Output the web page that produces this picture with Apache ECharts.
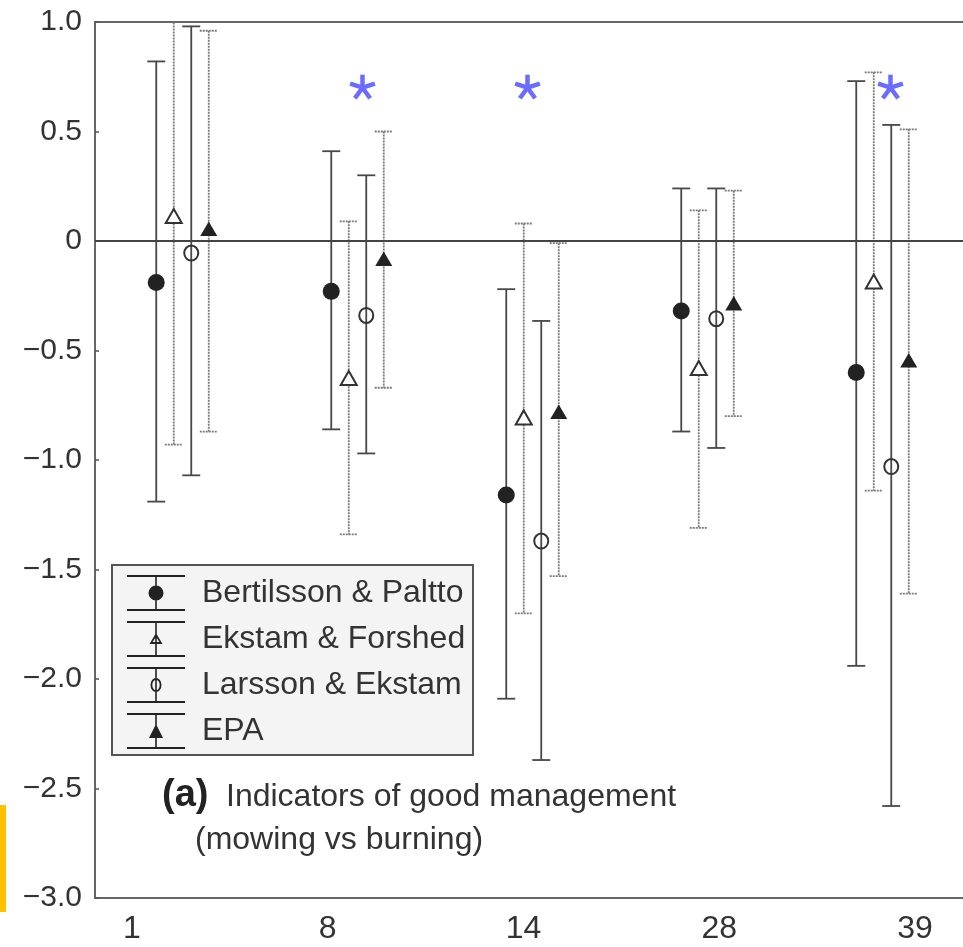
<!DOCTYPE html>
<html>
<head>
<meta charset="utf-8">
<script src="https://cdn.jsdelivr.net/npm/echarts@6/dist/echarts.min.js"></script>
<style>html,body{margin:0;padding:0;background:#fff;}#chart{width:963px;height:947px;}</style>
</head>
<body>
<div id="chart"></div>
<script>
// ---- data ----
const categories = ['1', '8', '14', '28', '39'];
const seriesNames = ['Bertilsson & Paltto', 'Ekstam & Forshed', 'Larsson & Ekstam', 'EPA'];

const bertMean = [-0.19, -0.23, -1.16, -0.32, -0.60];
const bertLow  = [-1.19, -0.86, -2.09, -0.87, -1.94];
const bertHigh = [0.82, 0.41, -0.22, 0.24, 0.73];

const ekMean = [0.11, -0.63, -0.81, -0.585, -0.19];
const ekLow  = [-0.93, -1.34, -1.70, -1.31, -1.14];
const ekHigh = [1.08, 0.09, 0.08, 0.14, 0.77];

const larMean = [-0.055, -0.34, -1.37, -0.355, -1.03];
const larLow  = [-1.07, -0.97, -2.37, -0.945, -2.58];
const larHigh = [0.98, 0.30, -0.365, 0.24, 0.53];

const epaMean = [0.05, -0.087, -0.785, -0.29, -0.55];
const epaLow  = [-0.87, -0.67, -1.53, -0.80, -1.61];
const epaHigh = [0.96, 0.50, -0.01, 0.23, 0.51];

const starCats = ['8', '14', '39'];
const starValues = [0.70, 0.70, 0.70];

// ---- styling ----
const FONT = '"Liberation Sans", Arial, Helvetica, sans-serif';
const solidLine = { stroke: '#484848', lineWidth: 1.8 };
const dottedLine = { stroke: '#7a7a7a', lineWidth: 1.8, lineDash: [2, 1] };
const starOffsets = [5, -5, 8];

function build(mean, low, high) {
  return categories.map((c, i) => [c, mean[i], low[i], high[i]]);
}

function makeRender(offset, lineStyle, marker) {
  return function (params, api) {
    const ci = api.value(0);
    const pm = api.coord([ci, api.value(1)]);
    const pl = api.coord([ci, api.value(2)]);
    const ph = api.coord([ci, api.value(3)]);
    const x = pm[0] + offset, y = pm[1];
    const hw = 9;
    const children = [
      { type: 'line', shape: { x1: x, y1: ph[1], x2: x, y2: pl[1] }, style: lineStyle },
      { type: 'line', shape: { x1: x - hw, y1: ph[1], x2: x + hw, y2: ph[1] }, style: lineStyle },
      { type: 'line', shape: { x1: x - hw, y1: pl[1], x2: x + hw, y2: pl[1] }, style: lineStyle }
    ];
    if (marker === 'dot') {
      children.push({ type: 'circle', shape: { cx: x, cy: y, r: 8.5 }, style: { fill: '#222' } });
    } else if (marker === 'otri') {
      children.push({ type: 'polygon', shape: { points: [[x, y - 8], [x + 8, y + 6], [x - 8, y + 6]] },
        style: { fill: '#fff', stroke: '#333', lineWidth: 2 } });
    } else if (marker === 'ocirc') {
      children.push({ type: 'ellipse', shape: { cx: x, cy: y, rx: 7, ry: 7.5 },
        style: { fill: 'none', stroke: '#333', lineWidth: 2 } });
    } else if (marker === 'ftri') {
      children.push({ type: 'polygon', shape: { points: [[x, y - 8.5], [x + 8.5, y + 6], [x - 8.5, y + 6]] },
        style: { fill: '#222' } });
    }
    return { type: 'group', children: children };
  };
}

function starRender(params, api) {
  const p = api.coord([api.value(0), api.value(1)]);
  const x = p[0] + starOffsets[params.dataIndex], y = p[1];
  const r = 13;
  const children = [];
  [-90, -18, 54, 126, 198].forEach(function (a) {
    const rad = a * Math.PI / 180;
    children.push({ type: 'line', shape: { x1: x, y1: y, x2: x + r * Math.cos(rad), y2: y + r * Math.sin(rad) },
      style: { stroke: '#6b6bff', lineWidth: 4.5, lineCap: 'butt' } });
  });
  return { type: 'group', children: children };
}

// legend icons (58 x 36)
const caps = 'M0 0h58v2H0Z M0 34h58v2H0Z M28.2 2h1.6v32h-1.6Z ';
const iconDot = 'path://' + caps + 'M21.5 18a7.5 7.5 0 1 1 15 0a7.5 7.5 0 1 1 -15 0Z';
const iconOtri = 'path://' + caps + 'M29 12L35.5 23H22.5Z M29 15.8L25.6 21H32.4Z';
const iconOcirc = 'path://' + caps + 'M23.5 18a5.5 7 0 1 1 11 0a5.5 7 0 1 1 -11 0Z M25.3 18a3.7 5.2 0 1 0 7.4 0a3.7 5.2 0 1 0 -7.4 0Z';
const iconFtri = 'path://' + caps + 'M29 11L36 25H22Z';

const chart = echarts.init(document.getElementById('chart'), null, { renderer: 'canvas' });

const axisLineStyle = { color: '#666', width: 2 };

chart.setOption({
  backgroundColor: '#fff',
  animation: false,
  textStyle: { fontFamily: FONT },
  grid: [
    { left: 95, top: 22, width: 875, height: 876, outerBoundsMode: 'none', containLabel: false },
    { left: 34, top: 22, width: 979, height: 876, outerBoundsMode: 'none', containLabel: false }
  ],
  xAxis: [
    { type: 'category', gridIndex: 0, data: categories, boundaryGap: true, position: 'bottom',
      axisLine: { onZero: false, lineStyle: axisLineStyle },
      axisTick: { inside: true, alignWithLabel: true, length: 4, lineStyle: { color: '#555', width: 1.5 } },
      axisLabel: { show: false }, splitLine: { show: false } },
    { type: 'category', gridIndex: 0, data: categories, boundaryGap: true, position: 'top',
      axisLine: { onZero: false, lineStyle: axisLineStyle },
      axisTick: { inside: true, alignWithLabel: true, length: 4, lineStyle: { color: '#555', width: 1.5 } },
      axisLabel: { show: false }, splitLine: { show: false } },
    { type: 'category', gridIndex: 1, data: categories, boundaryGap: true, position: 'bottom',
      axisLine: { show: false, onZero: false }, axisTick: { show: false },
      axisLabel: { show: true, fontSize: 32, color: '#333', margin: 15, fontFamily: FONT },
      splitLine: { show: false } }
  ],
  yAxis: [
    { type: 'value', gridIndex: 0, min: -3, max: 1, interval: 0.5,
      axisLine: { show: true, onZero: false, lineStyle: axisLineStyle },
      axisTick: { show: true, inside: true, length: 4, lineStyle: { color: '#555', width: 1.5 } },
      splitLine: { show: false },
      axisLabel: { fontSize: 30, color: '#333', margin: 13, fontFamily: FONT,
        formatter: function (v) {
          if (Math.abs(v) < 1e-9) return '0';
          return (v < 0 ? '\u2212' : '') + Math.abs(v).toFixed(1);
        } } },
    { type: 'value', gridIndex: 1, min: -3, max: 1, show: false }
  ],
  legend: {
    orient: 'vertical', left: 112, top: 565, padding: [10, 10, 10, 15],
    itemWidth: 58, itemHeight: 36, itemGap: 10,
    itemStyle: { borderWidth: 0, color: '#222' },
    textStyle: { fontSize: 32, color: '#333', fontFamily: FONT, padding: [0, 0, 14, 12] },
    data: [
      { name: seriesNames[0], icon: iconDot },
      { name: seriesNames[1], icon: iconOtri },
      { name: seriesNames[2], icon: iconOcirc },
      { name: seriesNames[3], icon: iconFtri }
    ]
  },
  graphic: [
    { type: 'rect', z: 0, shape: { x: 112, y: 565, width: 361, height: 190 },
      style: { fill: '#f4f4f4', stroke: '#555', lineWidth: 2 } },
    { type: 'rect', shape: { x: 0, y: 805, width: 6, height: 107 }, style: { fill: '#ffc000' } },
    { type: 'text', x: 162, y: 796, style: { text: '(a)', fontSize: 38, fontWeight: 'bold', fill: '#222',
      fontFamily: FONT, verticalAlign: 'middle' } },
    { type: 'text', x: 226, y: 797, style: { text: 'Indicators of good management', fontSize: 32, fill: '#333',
      fontFamily: FONT, verticalAlign: 'middle' } },
    { type: 'text', x: 195, y: 840, style: { text: '(mowing vs burning)', fontSize: 32, fill: '#333',
      fontFamily: FONT, verticalAlign: 'middle' } }
  ],
  series: [
    { name: seriesNames[0], type: 'custom', xAxisIndex: 0, yAxisIndex: 0, clip: true,
      itemStyle: { color: '#222' }, encode: { x: 0, y: [1, 2, 3] },
      renderItem: makeRender(-26.25, solidLine, 'dot'), data: build(bertMean, bertLow, bertHigh),
      markLine: { silent: true, symbol: 'none', label: { show: false },
        lineStyle: { color: '#444', width: 1.8, type: 'solid' }, data: [{ yAxis: 0 }] } },
    { name: seriesNames[1], type: 'custom', xAxisIndex: 0, yAxisIndex: 0, clip: true,
      itemStyle: { color: '#222' }, encode: { x: 0, y: [1, 2, 3] },
      renderItem: makeRender(-8.75, dottedLine, 'otri'), data: build(ekMean, ekLow, ekHigh) },
    { name: seriesNames[2], type: 'custom', xAxisIndex: 0, yAxisIndex: 0, clip: true,
      itemStyle: { color: '#222' }, encode: { x: 0, y: [1, 2, 3] },
      renderItem: makeRender(8.75, solidLine, 'ocirc'), data: build(larMean, larLow, larHigh) },
    { name: seriesNames[3], type: 'custom', xAxisIndex: 0, yAxisIndex: 0, clip: true,
      itemStyle: { color: '#222' }, encode: { x: 0, y: [1, 2, 3] },
      renderItem: makeRender(26.25, dottedLine, 'ftri'), data: build(epaMean, epaLow, epaHigh) },
    { name: 'significance', type: 'custom', xAxisIndex: 0, yAxisIndex: 0, clip: false,
      encode: { x: 0, y: 1 }, renderItem: starRender,
      data: starCats.map((c, i) => [c, starValues[i]]) }
  ]
});
</script>
</body>
</html>
